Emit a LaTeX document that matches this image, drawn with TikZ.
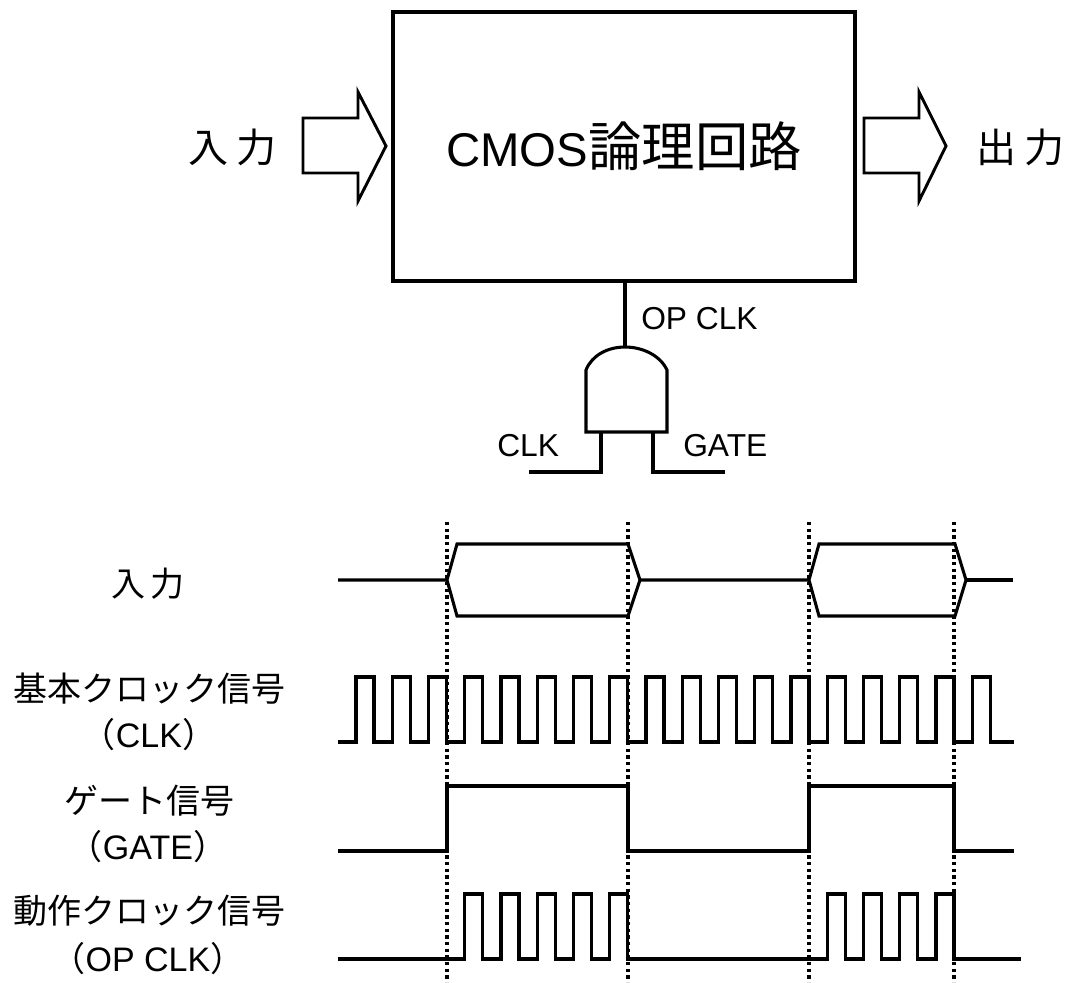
\documentclass[tikz,border=0pt]{standalone}
\usepackage{fontspec}
\setmainfont{Liberation Sans}
\newfontfamily\jpfont{Noto Sans CJK JP}
\usetikzlibrary{arrows.meta, positioning, calc}
\newcommand{\jp}[1]{{\jpfont #1}}

\tikzset{
    signal/.style={line width=2.3pt, line join=miter},
    guide/.style={line width=2.8pt, dash pattern=on 2.4pt off 2.6pt},
    bigarrow/.style={line width=2.2pt, line join=miter},
    bigtext/.style={inner sep=0pt, font=\fontsize{30}{36}\selectfont},
    pintext/.style={inner sep=0pt, font=\fontsize{23.8}{28}\selectfont},
    rowtext/.style={inner sep=0pt, font=\fontsize{25.5}{30}\selectfont},
}

\begin{document}
\begin{tikzpicture}[x=0.75pt, y=-0.75pt]
    \useasboundingbox (0,0) rectangle (1069,982);

    % Top: logic block with input and output
    \node[draw, line width=3.2pt, minimum width=346.5pt, minimum height=201.75pt, inner sep=0pt, font=\fontsize{35.5}{42}\selectfont] (block) at (624,146.5) {CMOS{\fontsize{40}{48}\selectfont\jpfont 論理回路}};
    \node[bigtext] (inlabel) at (232,147) {\jp{入\hspace{6pt}力}};
    \node[bigtext] (outlabel) at (1020,147) {\jp{出\hspace{6pt}力}};
    \draw[bigarrow] (303,118) -- (358,118) -- (358,92) -- (386,146) -- (358,201) -- (358,173) -- (303,173) -- cycle;
    \draw[bigarrow] (864,118) -- (919,118) -- (919,92) -- (946,146) -- (919,201) -- (919,173) -- (864,173) -- cycle;

    % Gate below the block
    \coordinate (gatetop) at (625,347);
    \coordinate (gateleft) at (601,432);
    \coordinate (gateright) at (653,432);
    \coordinate (clkend) at (529,472);
    \coordinate (gatend) at (725,472);
    \draw[signal] (586,432) -- (586,370) .. controls (592,355) and (608,347) .. (gatetop) .. controls (642,347) and (660,355) .. (667,370) -- (667,432) -- cycle;
    \draw[signal] (block.south -| gatetop) -- (gatetop);
    \draw[signal] (gateleft) |- (clkend);
    \draw[signal] (gateright) |- (gatend);
    \node[pintext, anchor=west] (oplabel) at (641,319) {OP CLK};
    \node[pintext, anchor=west] (clklabel) at (497,446) {CLK};
    \node[pintext, anchor=west] (gatelabel) at (683,446) {GATE};

    % Timing chart: guides
    \foreach \x in {447,628,809,954}
        \draw[guide] (\x,522) -- (\x,982);

    % Input
    \draw[signal] (338,580) -- (447,580) -- (457,544) -- (628,544) -- (640,580) -- (628,616) -- (457,616) -- (447,580);
    \draw[signal] (640,580) -- (809,580) -- (819,544) -- (955,544) -- (966,580) -- (955,616) -- (819,616) -- (809,580);
    \draw[signal] (966,580) -- (1013,580);

    % Basic clock
    \draw[signal] (338,742) foreach \k in {0,...,17} {-- ({356+36.25*\k},742) -- ++(0,-65) -- ++(18,0) -- ++(0,65)} -- (1014,742);

    % Gate signal
    \draw[signal] (338,851) -- (447,851) -- (447,786) -- (628,786) -- (628,851) -- (809,851) -- (809,786) -- (954,786) -- (954,851) -- (1014,851);

    % Operating clock
    \draw[signal] (338,959) foreach \k in {3,...,7} {-- ({356+36.25*\k},959) -- ++(0,-65) -- ++(18,0) -- ++(0,65)} foreach \k in {13,...,16} {-- ({356+36.25*\k},959) -- ++(0,-65) -- ++(18,0) -- ++(0,65)} -- (1021,959);

    % Row labels
    \node[rowtext] (rowinput) at (148,584) {\jp{入\hspace{4pt}力}};
    \node[rowtext] (rowclk) at (149,689) {\jp{基本クロック信号}};
    \node[rowtext] (rowclkb) at (149,735) {\jp{（}CLK\jp{）}};
    \node[rowtext] (rowgate) at (149,801) {\jp{ゲート信号}};
    \node[rowtext] (rowgateb) at (148,847) {\jp{（}GATE\jp{）}};
    \node[rowtext] (rowop) at (149,911) {\jp{動作クロック信号}};
    \node[rowtext] (rowopb) at (148,959) {\jp{（}OP CLK\jp{）}};
\end{tikzpicture}
\end{document}
